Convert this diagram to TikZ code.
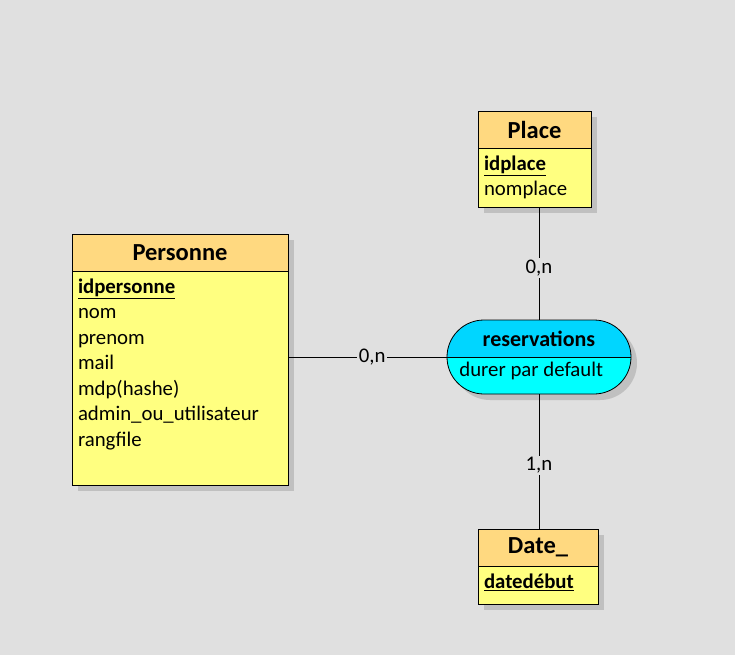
\documentclass[tikz,border=0pt]{standalone}
\usepackage{fontspec}
\setmainfont{Carlito}
\usetikzlibrary{shapes.misc,shadows,positioning}

\definecolor{fond}{RGB}{224,224,224}
\definecolor{entete}{RGB}{255,217,128}
\definecolor{corps}{RGB}{255,255,128}
\definecolor{assoc}{RGB}{0,214,255}
\definecolor{assocbas}{RGB}{0,255,255}
\definecolor{ombre}{RGB}{192,192,192}

\newcommand{\cle}[1]{\underline{\textbf{#1}}}

\begin{document}
\begin{tikzpicture}[x=1pt,y=-1pt,line width=0.8pt,
    entity/.style={draw,fill=corps,inner sep=0pt,
      drop shadow={shadow xshift=6pt,shadow yshift=-6pt,fill=ombre,opacity=1}},
    head/.style={draw,fill=entete,anchor=north,minimum height=37pt,inner sep=0pt,
      font=\fontsize{24.5}{28}\selectfont\bfseries},
    attr/.style={anchor=north west,inner sep=0pt,align=left,
      font=\fontsize{20.8}{25.5}\selectfont},
    card/.style={fill=fond,inner sep=1.5pt,font=\fontsize{20.8}{24}\selectfont}]

\fill[fond] (0,0) rectangle (735,655);
\useasboundingbox (0,0) rectangle (735,655);

% entites
\node[entity, minimum width=216pt, minimum height=251pt] (P) at (180,359.5) {};
\node[head, minimum width=216pt] (Ph) at (P.north) {Personne};
\node[attr] (Pa) at ([xshift=6pt,yshift=-7pt]Ph.south west)
  {\cle{idpersonne}\\nom\\prenom\\mail\\mdp(hashe)\\admin\_ou\_utilisateur\\rangfile};

\node[entity, minimum width=113pt, minimum height=96pt] (Pl) at (534.5,159) {};
\node[head, minimum width=113pt] (Plh) at (Pl.north) {Place};
\node[attr] (Pla) at ([xshift=6pt,yshift=-7pt]Plh.south west)
  {\cle{idplace}\\nomplace};

\node[entity, minimum width=120pt, minimum height=75pt] (D) at (538,566.5) {};
\node[head, minimum width=120pt] (Dh) at (D.north) {Date\_};
\node[attr] (Da) at ([xshift=6pt,yshift=-7pt]Dh.south west)
  {\cle{datedébut}};

% association
\node[entity, rounded rectangle, fill=assoc, minimum width=184pt, minimum height=74pt,
  path picture={
    \fill[assocbas] (path picture bounding box.west) rectangle (path picture bounding box.south east);
    \draw (path picture bounding box.west) -- (path picture bounding box.east);
  }] (R) at (539,357) {};
\node[font=\fontsize{22}{26}\selectfont\bfseries] (Rt) at (539,339) {reservations};
\node[attr, anchor=west] (Ra) at (459,371) {durer par default};

% liens
\draw (R.west) -- node[card, pos=0.47]{0,n} (R.west -| P.east);
\draw (R.north) -- node[card, pos=0.46]{0,n} (R.north |- Pl.south);
\draw (R.south) -- node[card, pos=0.53]{1,n} (R.south |- D.north);

\end{tikzpicture}
\end{document}
